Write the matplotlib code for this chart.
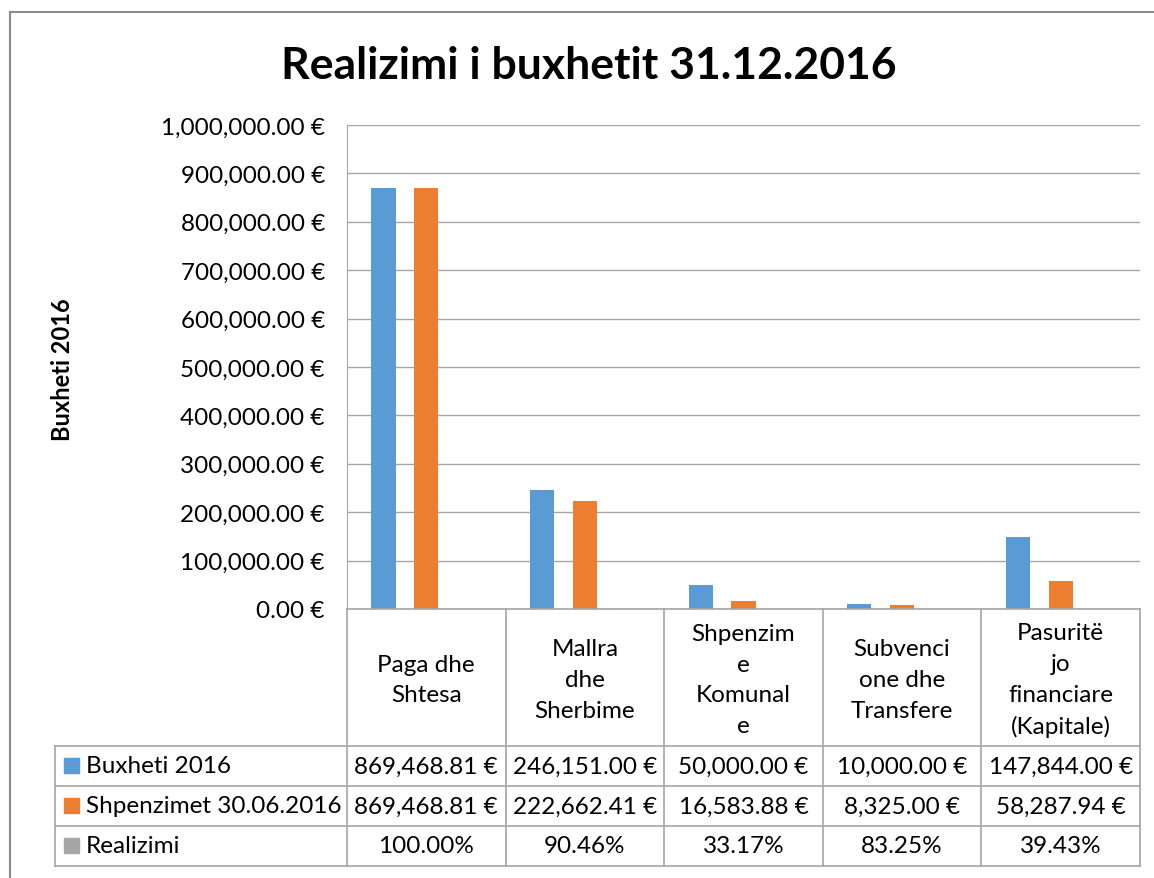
import numpy as np
import matplotlib.pyplot as plt
from matplotlib.lines import Line2D
from matplotlib.patches import Rectangle
from matplotlib.ticker import FuncFormatter

plt.rcParams['font.family'] = ['Lato', 'DejaVu Sans']

categories = ["Paga dhe\nShtesa", "Mallra\ndhe\nSherbime", "Shpenzim\ne\nKomunal\ne",
              "Subvenci\none dhe\nTransfere", "Pasuritë\njo\nfinanciare\n(Kapitale)"]
series_names = ["Buxheti 2016", "Shpenzimet 30.06.2016", "Realizimi"]
buxheti = [869468.81, 246151.00, 50000.00, 10000.00, 147844.00]
shpenzimet = [869468.81, 222662.41, 16583.88, 8325.00, 58287.94]
realizimi = [1.0000, 0.9046, 0.3317, 0.8325, 0.3943]
colors = ["#5b9bd5", "#ed7d31", "#a5a5a5"]
grid_c = "#a6a6a6"

W, H = 1154, 879
fig = plt.figure(figsize=(W / 100, H / 100), dpi=100)

def fx(px):
    return px / W

def fy(py):
    return 1 - py / H

# outer chart border
fig.add_artist(Line2D([fx(10), fx(10)], [fy(13), 0], color="#8c8c8c", lw=1.5))
fig.add_artist(Line2D([fx(10), 1], [fy(13), fy(13)], color="#8c8c8c", lw=1.5))

left, right, top, bottom = 347, 1140, 126, 610
ax = fig.add_axes([fx(left), fy(bottom), fx(right - left), (bottom - top) / H])

x = np.arange(len(categories))
offs = [-0.27, 0.0, 0.27]
bw = 0.152
for vals, off, c in zip([buxheti, shpenzimet, realizimi], offs, colors):
    ax.bar(x + off, vals, width=bw, color=c, zorder=3)

ax.set_xlim(-0.5, len(categories) - 0.5)
ax.set_ylim(0, 1000000)
ax.set_yticks(np.arange(0, 1000001, 100000))
ax.yaxis.set_major_formatter(FuncFormatter(lambda v, p: f"{v:,.2f} €"))
ax.tick_params(axis='y', length=0, pad=16, labelsize=17.5)
ax.set_xticks([])
ax.grid(axis='y', color=grid_c, lw=1, zorder=0)
for s in ["top", "right", "bottom"]:
    ax.spines[s].set_visible(False)
ax.spines["left"].set_color(grid_c)

fig.text(fx(62), fy(370), "Buxheti 2016", rotation=90, ha='center', va='center',
         fontsize=17, fontweight='bold')
fig.text(fx(589), fy(66), "Realizimi i buxhetit 31.12.2016", ha='center', va='center',
         fontsize=32, fontweight='bold')

# data table
cols = np.linspace(left, right, len(categories) + 1)
rows = [610, 747, 787, 827, 867]
leg_left = 55

def hline(y, x0, x1):
    fig.add_artist(Line2D([fx(x0), fx(x1)], [fy(y), fy(y)], color=grid_c, lw=1.2))

def vline(xp, y0, y1):
    fig.add_artist(Line2D([fx(xp), fx(xp)], [fy(y0), fy(y1)], color=grid_c, lw=1.2))

hline(rows[0], left, right)
for r in rows[1:]:
    hline(r, leg_left, right)
for c in cols:
    vline(c, rows[0], rows[-1])
vline(leg_left, rows[1], rows[-1])

for i, lab in enumerate(categories):
    cx = (cols[i] + cols[i + 1]) / 2
    fig.text(fx(cx), fy((rows[0] + rows[1]) / 2 + 2), lab, ha='center', va='center',
             fontsize=17.5, linespacing=1.58)

row_texts = [
    [f"{v:,.2f} €" for v in buxheti],
    [f"{v:,.2f} €" for v in shpenzimet],
    [f"{v * 100:.2f}%" for v in realizimi],
]
for j, (name, texts, c) in enumerate(zip(series_names, row_texts, colors)):
    cy = (rows[j + 1] + rows[j + 2]) / 2
    fig.add_artist(Rectangle((fx(64), fy(cy + 7)), fx(15), 15 / H, color=c))
    fig.text(fx(86), fy(cy), name, ha='left', va='center', fontsize=17.5)
    for i, t in enumerate(texts):
        cx = (cols[i] + cols[i + 1]) / 2
        fig.text(fx(cx), fy(cy), t, ha='center', va='center', fontsize=17.5)

fig.savefig("out.png", dpi=100)
